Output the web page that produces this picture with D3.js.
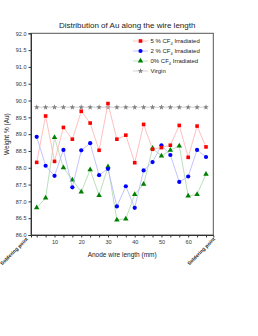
<!DOCTYPE html>
<html>
<head>
<meta charset="utf-8">
<script src="https://cdn.jsdelivr.net/npm/d3@7/dist/d3.min.js"></script>
<style>
  body { margin: 0; background: #fff; }
  text { font-family: "Liberation Sans", Arial, sans-serif; }
</style>
</head>
<body>
<div id="chart"></div>
<script>
// anode wire position (mm)
const positions = [3.33, 6.67, 10, 13.33, 16.67, 20, 23.33, 26.67, 30, 33.33,
  36.67, 40, 43.33, 46.67, 50, 53.33, 56.67, 60, 63.33, 66.67]

const cf4_5 = [88.16, 89.54, 88.19, 89.20, 88.85, 89.68, 89.33, 88.52, 89.91, 88.85,
  88.97, 88.15, 89.29, 88.55, 88.60, 88.67, 89.26, 88.31, 89.24, 88.62]
const cf4_2 = [88.92, 88.06, 87.76, 88.53, 87.42, 88.52, 88.73, 87.78, 87.97, 86.85,
  87.45, 86.81, 87.92, 88.17, 88.67, 88.38, 87.58, 87.74, 88.53, 88.32]
const cf4_0 = [86.81, 87.10, 88.90, 88.00, 87.64, 87.28, 87.94, 87.18, 88.03, 86.45,
  86.48, 87.21, 87.51, 88.58, 88.35, 88.52, 88.65, 87.16, 87.21, 87.81]
const virgin = [89.8, 89.8, 89.8, 89.8, 89.8, 89.8, 89.8, 89.8, 89.8, 89.8,
  89.8, 89.8, 89.8, 89.8, 89.8, 89.8, 89.8, 89.8, 89.8, 89.8]

const yTicks = [86, 86.5, 87, 87.5, 88, 88.5, 89, 89.5, 90, 90.5, 91, 91.5, 92]
const xLabelTicks = [10, 20, 30, 40, 50, 60]

const series = [
  { name: '5 % CF', sub: '4', rest: ' Irradiated', values: cf4_5, color: '#ff0000', line: '#ffb0b0', symbol: d3.symbolSquare, size: 13 },
  { name: '2 % CF', sub: '4', rest: ' Irradiated', values: cf4_2, color: '#0000ff', line: '#b4b4ff', symbol: d3.symbolCircle, size: 14 },
  { name: '0% CF', sub: '4', rest: ' Irradiated', values: cf4_0, color: '#008000', line: '#a8d8a8', symbol: d3.symbolTriangle, size: 13 },
  { name: 'Virgin', sub: '', rest: '', values: virgin, color: '#808080', line: '#c8c8c8', symbol: d3.symbolStar, size: 10 },
]

const width = 258
const height = 336
const plotLeft = 31, plotRight = 213.3, plotTop = 33.3, plotBottom = 235

const svg = d3.select('#chart').append('svg')
  .attr('width', width)
  .attr('height', height)

const x = d3.scaleLinear().domain([1.2, 69.4]).range([plotLeft, plotRight])
const y = d3.scaleLinear().domain([86, 92]).range([plotBottom, plotTop])

// frame
svg.append('rect')
  .attr('x', plotLeft).attr('y', plotTop)
  .attr('width', plotRight - plotLeft).attr('height', plotBottom - plotTop)
  .attr('fill', 'none').attr('stroke', '#555').attr('stroke-width', 1)

const xAxis = d3.axisBottom(x)
  .tickValues(positions)
  .tickSize(2.5)
  .tickFormat(d => xLabelTicks.some(t => Math.abs(t - d) < 0.01) ? Math.round(d) : '')

const gx = svg.append('g')
  .attr('transform', `translate(0,${plotBottom})`)
  .call(xAxis)
gx.select('.domain').attr('stroke', '#333')
gx.selectAll('.tick line').attr('stroke', '#333')
gx.selectAll('.tick text').attr('font-size', 5.5).attr('fill', '#333').attr('dy', '0.6em')

const yAxis = d3.axisLeft(y)
  .tickValues(yTicks)
  .tickSize(2.5)
  .tickFormat(d3.format('.1f'))

const gy = svg.append('g')
  .attr('transform', `translate(${plotLeft},0)`)
  .call(yAxis)
gy.select('.domain').attr('stroke', '#333')
gy.selectAll('.tick line').attr('stroke', '#333')
gy.selectAll('.tick text').attr('font-size', 5.5).attr('fill', '#333').attr('x', -4.5)

// soldering point labels
;[0, 70].forEach(mm => {
  svg.append('text')
    .attr('transform', `translate(${x(mm) + 0.5},${plotBottom + 4.5}) rotate(-45)`)
    .attr('text-anchor', 'end')
    .attr('font-size', 5)
    .attr('font-weight', 'bold')
    .attr('fill', '#222')
    .text('Soldering point')
})

// title and axis labels
svg.append('text')
  .attr('x', (plotLeft + plotRight) / 2 + 5).attr('y', 28)
  .attr('text-anchor', 'middle')
  .attr('font-size', 8)
  .attr('fill', '#222')
  .text('Distribution of Au along the wire length')

svg.append('text')
  .attr('x', (plotLeft + plotRight) / 2).attr('y', 257)
  .attr('text-anchor', 'middle')
  .attr('font-size', 6.5)
  .attr('fill', '#222')
  .text('Anode wire length (mm)')

svg.append('text')
  .attr('transform', `translate(8.5,${(plotTop + plotBottom) / 2}) rotate(-90)`)
  .attr('text-anchor', 'middle')
  .attr('font-size', 6.5)
  .attr('fill', '#222')
  .text('Weight % (Au)')

const line = d3.line()
  .x((d, i) => x(positions[i]))
  .y(d => y(d))

// draw in reverse so red sits on top
series.slice().reverse().forEach(s => {
  svg.append('path')
    .datum(s.values)
    .attr('fill', 'none')
    .attr('stroke', s.line)
    .attr('stroke-width', 0.8)
    .attr('d', line)

  svg.selectAll(null)
    .data(s.values)
    .join('path')
    .attr('transform', (d, i) => `translate(${x(positions[i])},${y(d)})`)
    .attr('d', d3.symbol().type(s.symbol).size(s.size))
    .attr('fill', s.color)
})

// legend
const legend = svg.append('g')
series.forEach((s, i) => {
  const ly = 41 + i * 10
  legend.append('line')
    .attr('x1', 133).attr('x2', 148)
    .attr('y1', ly).attr('y2', ly)
    .attr('stroke', s.line).attr('stroke-width', 0.8)
  legend.append('path')
    .attr('transform', `translate(140.5,${ly})`)
    .attr('d', d3.symbol().type(s.symbol).size(s.size))
    .attr('fill', s.color)
  const t = legend.append('text')
    .attr('x', 150.5).attr('y', ly + 2)
    .attr('font-size', 6)
    .attr('fill', '#222')
  t.append('tspan').text(s.name)
  if (s.sub) {
    t.append('tspan').attr('font-size', 4).attr('dy', 1.5).text(s.sub)
    t.append('tspan').attr('dy', -1.5).text(s.rest)
  }
})
</script>
</body>
</html>
